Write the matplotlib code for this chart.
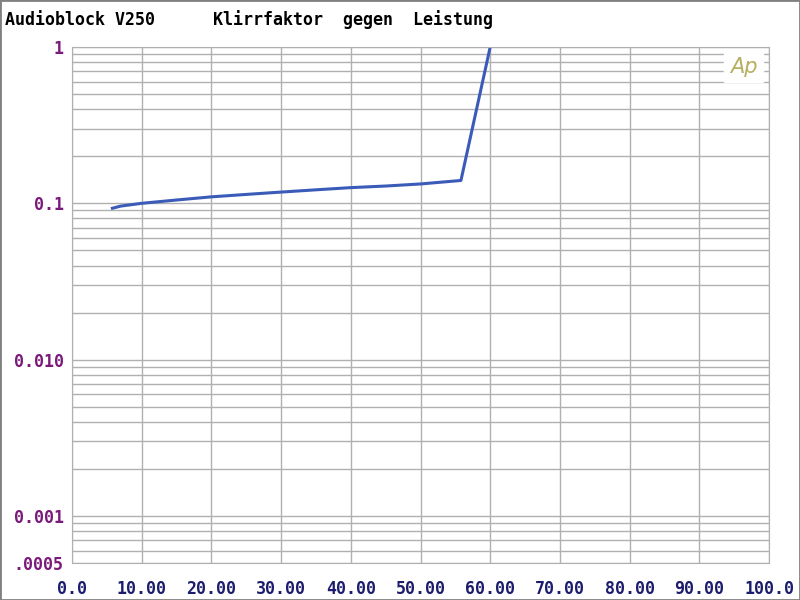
import matplotlib
matplotlib.use('Agg')
from matplotlib import pyplot as plt
from matplotlib.ticker import FixedLocator, LogLocator, NullFormatter
import numpy as np

# Leistung (W) vs Klirrfaktor (%)
power = [5.8, 7.0, 10.0, 15.0, 20.0, 25.0, 30.0, 35.0, 40.0, 45.0, 50.0, 55.8, 60.0]
thd = [0.093, 0.096, 0.100, 0.105, 0.110, 0.114, 0.118, 0.122, 0.126, 0.129, 0.133, 0.140, 1.0]

x_ticks = [0, 10, 20, 30, 40, 50, 60, 70, 80, 90, 100]
x_labels = ['0.0', '10.00', '20.00', '30.00', '40.00', '50.00', '60.00', '70.00', '80.00', '90.00', '100.0']
y_ticks = [1, 0.1, 0.01, 0.001, 0.0005]
y_labels = ['1', '0.1', '0.010', '0.001', '.0005']

font = 'DejaVu Sans Mono'
fig = plt.figure(figsize=(8, 6), dpi=100)
ax = fig.add_axes([72/800, 1-563/600, (769-72)/800, (563-47)/600])

ax.plot(power, thd, color='#3a5bb8', lw=2.2)
ax.set_yscale('log')
ax.set_xlim(0, 100)
ax.set_ylim(0.0005, 1)

ax.xaxis.set_major_locator(FixedLocator(x_ticks))
ax.set_xticklabels(x_labels, fontfamily=font, fontweight='bold', fontsize=12, color='#1c1c6e')
ax.yaxis.set_major_locator(FixedLocator(y_ticks))
ax.set_yticklabels(y_labels, fontfamily=font, fontweight='bold', fontsize=12, color='#7a1a7a')
ax.yaxis.set_minor_locator(LogLocator(base=10, subs=np.arange(2, 10)))
ax.yaxis.set_minor_formatter(NullFormatter())
ax.tick_params(length=0, which='both', pad=6)
ax.tick_params(axis='x', pad=12)

ax.grid(True, which='both', color='#b0b0b0', lw=1)
for s in ax.spines.values():
    s.set_color('#b0b0b0')

fig.text(5/800, 1-20/600, 'Audioblock V250', fontfamily=font, fontweight='bold', fontsize=12, va='center')
fig.text(213/800, 1-20/600, 'Klirrfaktor  gegen  Leistung', fontfamily=font, fontweight='bold', fontsize=12, va='center')
ax.text(0.983, 0.962, 'Ap', transform=ax.transAxes, color='#b5b060', fontsize=15,
        fontstyle='italic', ha='right', va='center', backgroundcolor='white')

fig.patches.append(plt.Rectangle((0, 0), 1, 1, transform=fig.transFigure, fill=False,
                                 edgecolor='#808080', lw=2))
fig.savefig('out.png', dpi=100)
